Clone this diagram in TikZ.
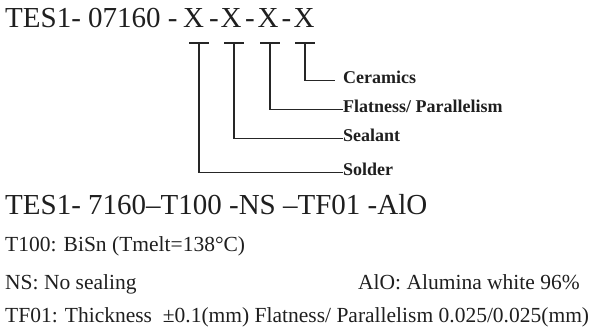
\documentclass[tikz,border=0pt]{standalone}
\usepackage{fontspec}
\setmainfont{Liberation Serif}
\begin{document}
\begin{tikzpicture}[x=1pt,y=-1pt,
  big/.style={anchor=base west,inner sep=0pt,font=\fontsize{29}{29}\selectfont,text=black!88},
  bigc/.style={anchor=base,inner sep=0pt,font=\fontsize{29}{29}\selectfont,text=black!88},
  lbl/.style={anchor=base west,inner sep=0pt,font=\fontsize{18}{18}\selectfont\bfseries,text=black!88},
  small/.style={anchor=base west,inner sep=0pt,font=\fontsize{21.5}{21.5}\selectfont,text=black!88},
  conn/.style={line width=1.6pt,black!85},
  bar/.style={line width=1.6pt,black!85}]
\useasboundingbox (0,0) rectangle (590,331);
\node[big] (title) at (5,28) {TES1- 07160 -};
\node[bigc] (x1) at (193.5,28) {X};
\node[bigc] (d1) at (214,28) {-};
\node[bigc] (x2) at (231,28) {X};
\node[bigc] (d2) at (250,28) {-};
\node[bigc] (x3) at (268,28) {X};
\node[bigc] (d3) at (286.5,28) {-};
\node[bigc] (x4) at (304,28) {X};
\foreach \i/\x in {1/199,2/234,3/270,4/305}{
  \coordinate (t\i) at (\x,43);
  \draw[bar] (\x-10,43) -- (\x+10,43);
}
\node[lbl] (ceramics) at (343,84) {Ceramics};
\node[lbl] (flat) at (343,113) {Flatness/ Parallelism};
\node[lbl] (sealant) at (343,142) {Sealant};
\node[lbl] (solder) at (343,176) {Solder};
\draw[conn] (t4) |- ([xshift=-8pt,yshift=3.5pt]ceramics.base west);
\draw[conn] (t3) |- ([yshift=3.5pt]flat.base west);
\draw[conn] (t2) |- ([yshift=3.5pt]sealant.base west);
\draw[conn] (t1) |- ([yshift=3.5pt]solder.base west);
\node[big] (code) at (5,215) {TES1- 7160–T100 -NS –TF01 -AlO};
\node[small] (t100) at (5,252) {T100: BiSn (Tmelt=138°C)};
\node[small] (ns) at (5,290) {NS: No sealing};
\node[small] (alo) at (358,290) {AlO: Alumina white 96\%};
\node[small] (tf01) at (5,323) {TF01: Thickness \ ±0.1(mm) Flatness/ Parallelism 0.025/0.025(mm)};
\end{tikzpicture}
\end{document}
